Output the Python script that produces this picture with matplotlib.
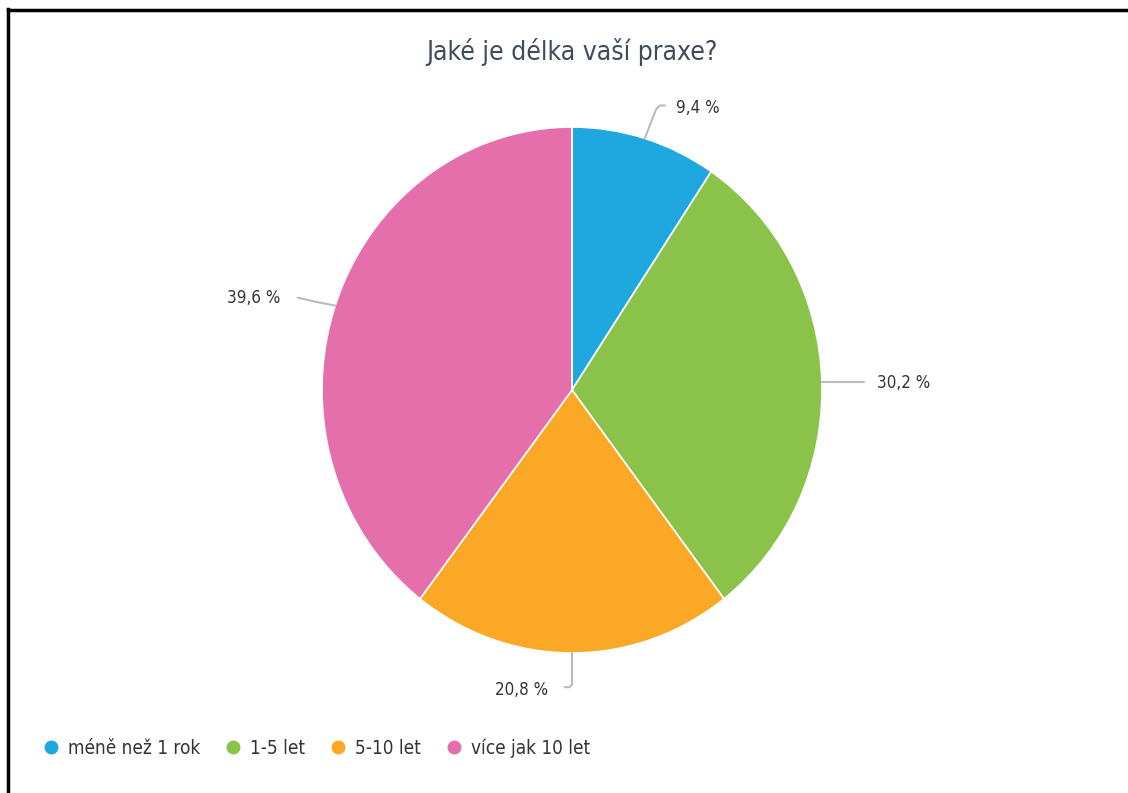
import numpy as np
import matplotlib.pyplot as plt
from matplotlib.lines import Line2D

# data
labels = ['méně než 1 rok', '1-5 let', '5-10 let', 'více jak 10 let']
values = [9.4, 30.2, 20.8, 39.6]
colors = ['#1fa8e0', '#8bc34a', '#faa825', '#e56fab']
pct_text = ['9,4 %', '30,2 %', '20,8 %', '39,6 %']

plt.rcParams['font.family'] = ['DejaVu Sans']

W, H = 1128, 793
fig = plt.figure(figsize=(W / 100, H / 100), dpi=100)

# pie axes: centre (572, 390) px, radius 250 px wide, 263 px tall
cx, cy, rx, ry = 572, 390, 250, 263
ax = fig.add_axes([(cx - rx) / W, (H - cy - ry) / H, 2 * rx / W, 2 * ry / H])
wedges, _ = ax.pie(values, colors=colors, startangle=90, counterclock=False,
                   radius=1, wedgeprops=dict(edgecolor='white', linewidth=1.2))
ax.set_xlim(-1, 1)
ax.set_ylim(-1, 1)
ax.set_aspect('auto')
ax.axis('off')

lc = '#bbbbbb'
tc = '#333333'
for i, w in enumerate(wedges):
    ang = np.deg2rad((w.theta1 + w.theta2) / 2)
    x0, y0 = np.cos(ang), np.sin(ang)
    if i == 0:
        xs = [x0, x0 + 0.045, x0 + 0.06, x0 + 0.08]
        ys = [y0, y0 + 0.11, y0 + 0.125, y0 + 0.125]
        tx, ty, ha = x0 + 0.125, y0 + 0.115, 'left'
    elif i == 1:
        xs = [x0, x0 + 0.17]
        ys = [y0, y0]
        tx, ty, ha = x0 + 0.22, y0 - 0.005, 'left'
    elif i == 2:
        xs = [x0, x0, x0 - 0.01, x0 - 0.03]
        ys = [y0, y0 - 0.12, y0 - 0.13, y0 - 0.13]
        tx, ty, ha = x0 - 0.095, y0 - 0.14, 'right'
    else:
        xs = [x0, x0 - 0.065, x0 - 0.15]
        ys = [y0, y0 + 0.012, y0 + 0.03]
        tx, ty, ha = x0 - 0.22, y0 + 0.027, 'right'
    ax.plot(xs, ys, color=lc, lw=1.5, clip_on=False, solid_capstyle='round')
    ax.text(tx, ty, pct_text[i], ha=ha, va='center', fontsize=12.2,
            color=tc, fontstretch='condensed')

fig.text(cx / W, 1 - 52 / H, 'Jaké je délka vaší praxe?', ha='center', va='center',
         fontsize=19, color='#3e4b5b', fontstretch='condensed')

handles = [Line2D([], [], marker='o', ls='', color=c, markersize=9) for c in colors]
fig.legend(handles, labels, loc='center left', bbox_to_anchor=(32 / W, 1 - 748 / H),
           ncol=4, frameon=False, prop=dict(size=13.6, stretch='condensed'),
           handletextpad=0.3, handlelength=1.2, columnspacing=1.15,
           labelcolor=tc, borderaxespad=0)

# frame lines on left and top
fig.add_artist(Line2D([8 / W, 8 / W], [0, 1 - 9 / H], color='black', lw=2.5))
fig.add_artist(Line2D([8 / W, 1], [1 - 10 / H, 1 - 10 / H], color='black', lw=2.5))

fig.savefig('out.png', dpi=100, facecolor='white')
